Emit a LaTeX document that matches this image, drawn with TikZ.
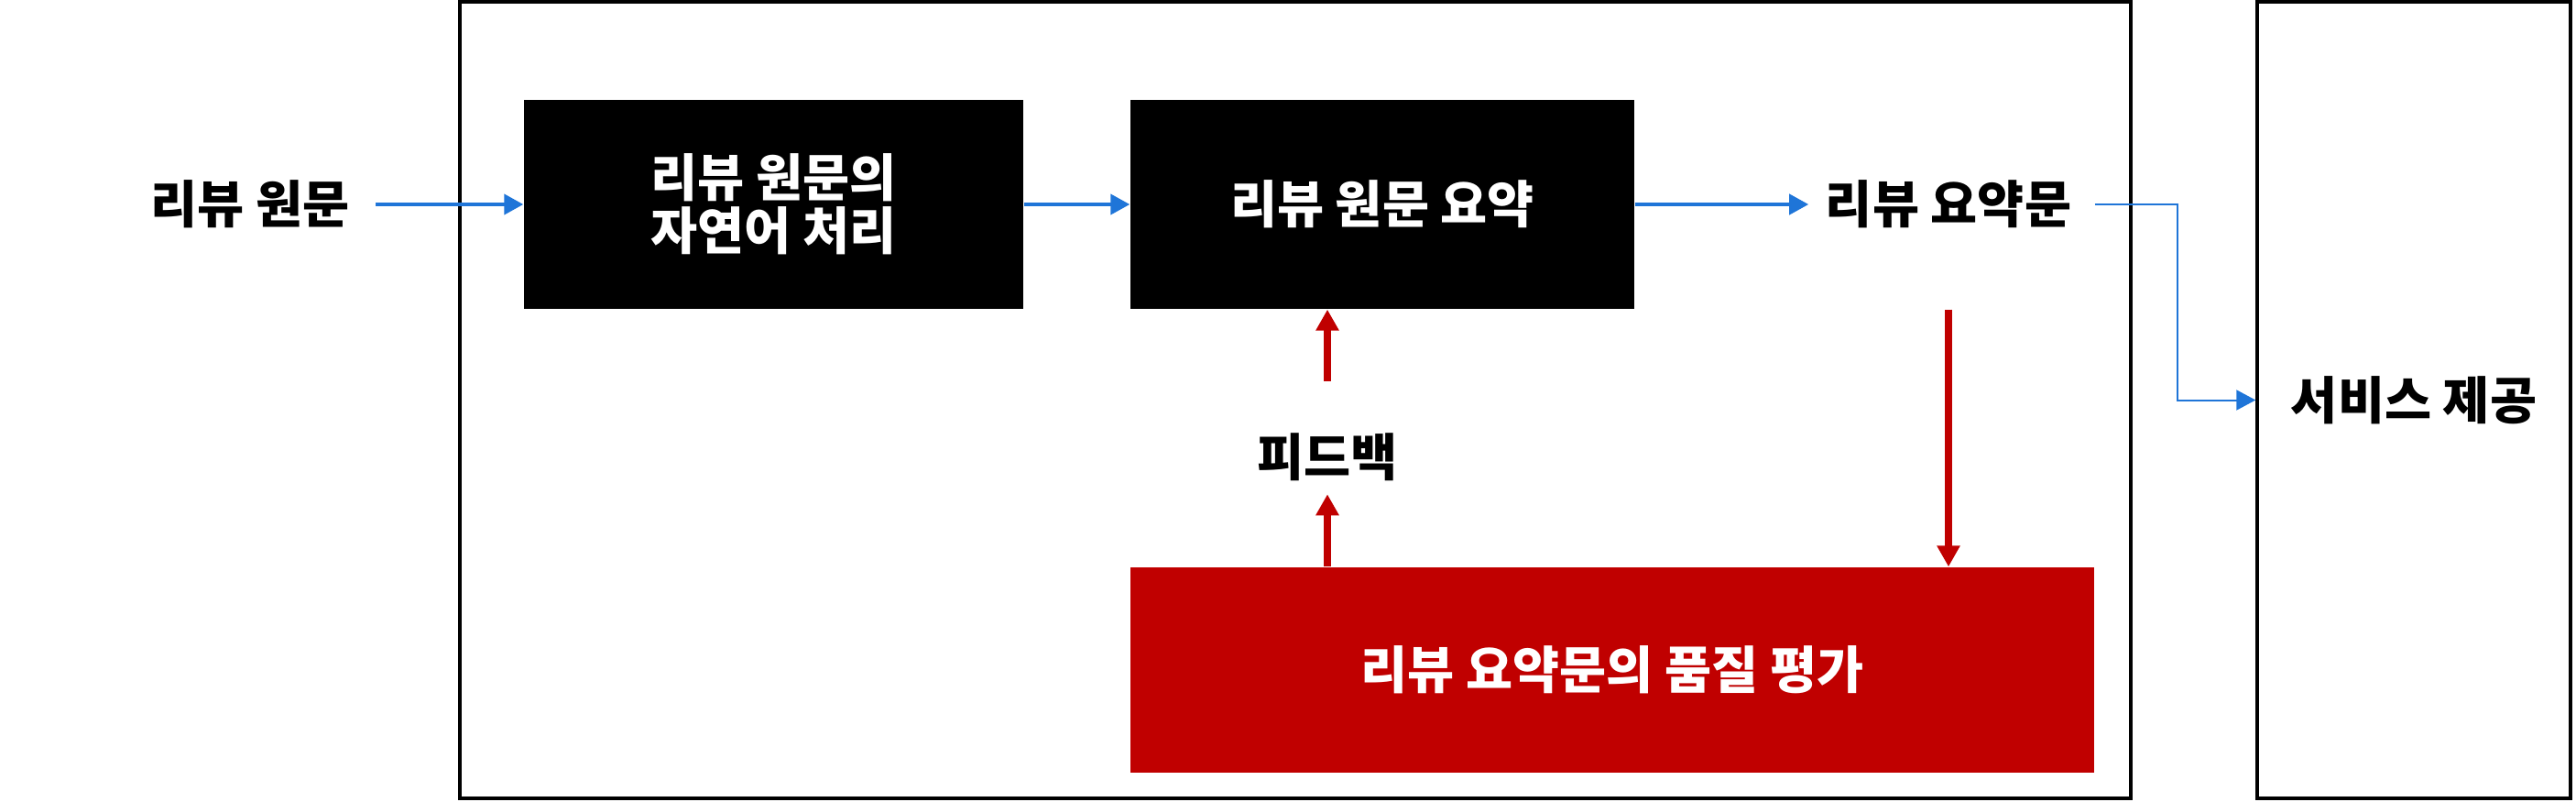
\documentclass[tikz,border=0pt]{standalone}
\usepackage{fontspec}
\setmainfont{Noto Sans CJK KR}
\usetikzlibrary{arrows.meta}
\definecolor{flowblue}{HTML}{1F75D8}
\definecolor{evalred}{HTML}{C00000}

\begin{document}
\begin{tikzpicture}[
	font=\fontsize{15.8}{16.5}\selectfont\bfseries,
	procbox/.style={fill=black, text=white, align=center, inner sep=0,
		minimum width=5.45cm, minimum height=2.28cm},
	txt/.style={inner sep=0},
	bluearrow/.style={draw=flowblue, line width=0.04cm,
		-{Triangle[length=0.21cm, width=0.22cm]}},
	redarrow/.style={draw=evalred, line width=0.08cm,
		-{Triangle[length=0.23cm, width=0.24cm]}}
]
	\useasboundingbox (0,0) rectangle (28.12,8.74);
	% 시스템 테두리
	\draw[line width=0.035cm] (5.02,0.03) rectangle (23.26,8.72);
	\node[draw, line width=0.035cm, inner sep=0, minimum width=3.42cm,
		minimum height=8.69cm] (service) at (26.35,4.375) {서비스 제공};

	% 처리 단계
	\node[txt] (source) at (2.73,6.51) {리뷰 원문};
	\node[procbox] (nlp) at (8.445,6.51) {리뷰 원문의\\자연어 처리};
	\node[procbox, minimum width=5.50cm] (summarize) at (15.09,6.51)
		{리뷰 원문 요약};
	\node[txt] (summary) at (21.27,6.51) {리뷰 요약문};
	\node[procbox, fill=evalred, minimum width=10.52cm, minimum height=2.24cm]
		(eval) at (17.60,1.43) {리뷰 요약문의 품질 평가};
	\node[txt] (feedback) at (14.49,3.755) {피드백};

	% 흐름
	\draw[bluearrow, shorten <=0.28cm] (source) -- (nlp);
	\draw[bluearrow] (nlp) -- (summarize);
	\draw[bluearrow, shorten >=0.18cm] (summarize) -- (summary);
	\draw[bluearrow, line width=0.02cm, shorten <=0.25cm]
		(summary.east) -- ++(1.15,0) |- (service.west);

	% 피드백 루프
	\draw[redarrow] (summarize.south -| summary) -- (eval.north -| summary);
	\draw[redarrow, shorten >=0.14cm] (eval.north -| feedback) -- (feedback);
	\draw[redarrow, shorten <=0.56cm] (feedback) -- (summarize.south -| feedback);
\end{tikzpicture}
\end{document}
